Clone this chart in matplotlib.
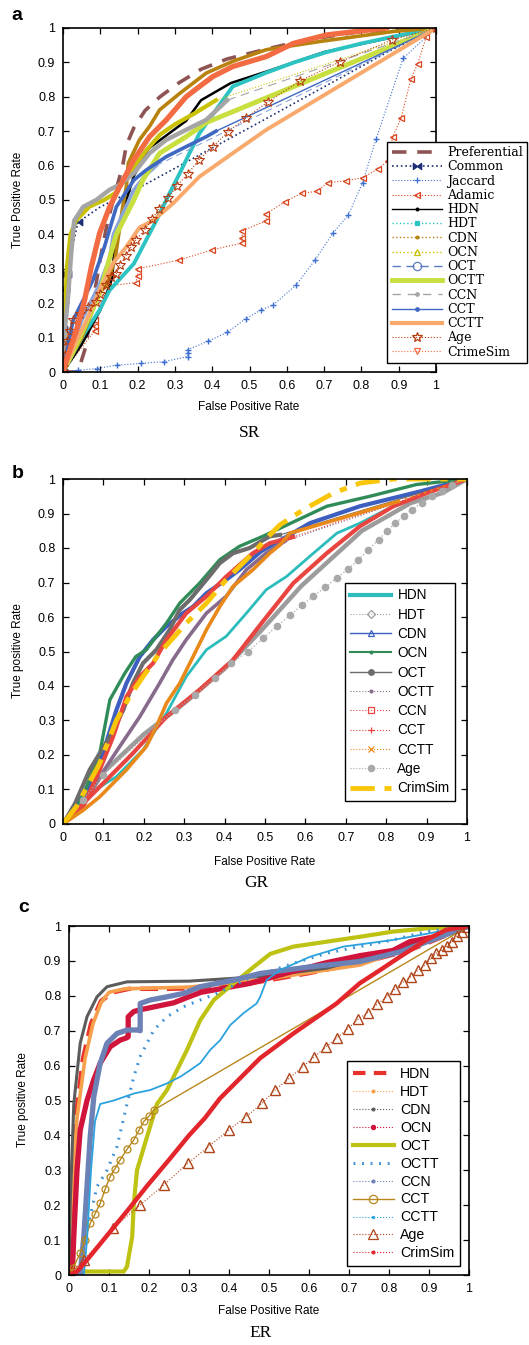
import numpy as np
import matplotlib.pyplot as plt
from matplotlib.lines import Line2D

plt.rcParams['font.family'] = ['Liberation Sans', 'DejaVu Sans']

# ROC curves, (false positive rate, true positive rate) pairs

# ---- (a) SR ----
sr_preferential = [(0, 0), (0.04, 0.0), (0.06, 0.07), (0.08, 0.2), (0.1, 0.33), (0.12, 0.44), (0.14, 0.52),
                   (0.16, 0.6), (0.17, 0.66), (0.19, 0.71), (0.22, 0.76), (0.26, 0.80), (0.31, 0.84),
                   (0.37, 0.88), (0.44, 0.91), (0.55, 0.94), (0.65, 0.965), (0.8, 0.99), (1, 1)]
sr_common = [(0, 0), (0, 0.04), (0, 0.09), (0, 0.125), (0, 0.22), (0.005, 0.24), (0.01, 0.285), (0.04, 0.435),
             (0.1, 0.48), (0.22, 0.545), (0.5, 0.71), (0.87, 0.93), (1, 1)]
sr_jaccard = [(0, 0), (0.04, 0.005), (0.09, 0.01), (0.145, 0.02), (0.21, 0.025), (0.27, 0.03), (0.335, 0.045),
              (0.335, 0.055), (0.335, 0.065), (0.39, 0.09), (0.44, 0.115), (0.49, 0.155), (0.53, 0.18),
              (0.564, 0.195), (0.625, 0.253), (0.676, 0.326), (0.723, 0.403), (0.765, 0.456), (0.803, 0.55),
              (0.839, 0.676), (0.912, 0.912), (1, 1)]
sr_adamic = [(0, 0), (0.085, 0.12), (0.085, 0.135), (0.085, 0.15), (0.12, 0.25), (0.195, 0.26), (0.2, 0.28),
             (0.2, 0.3), (0.31, 0.325), (0.40, 0.355), (0.48, 0.375), (0.48, 0.39), (0.48, 0.41), (0.545, 0.44),
             (0.545, 0.46), (0.595, 0.495), (0.64, 0.52), (0.68, 0.525), (0.71, 0.55), (0.759, 0.556),
             (0.804, 0.565), (0.844, 0.59), (0.871, 0.614), (0.884, 0.684), (0.906, 0.737), (0.933, 0.853),
             (0.951, 0.896), (0.974, 0.975), (1, 1)]
sr_hdn = [(0, 0), (0.05, 0.08), (0.1, 0.18), (0.125, 0.25), (0.133, 0.28), (0.137, 0.36), (0.15, 0.42),
          (0.17, 0.5), (0.19, 0.57), (0.23, 0.65), (0.28, 0.69), (0.33, 0.73), (0.37, 0.79), (0.45, 0.84),
          (0.55, 0.875), (0.7, 0.93), (0.87, 0.97), (1, 1)]
sr_hdt = [(0, 0), (0.054, 0.107), (0.098, 0.18), (0.125, 0.238), (0.19, 0.315), (0.25, 0.44), (0.286, 0.52),
          (0.313, 0.578), (0.339, 0.636), (0.366, 0.694), (0.41, 0.762), (0.455, 0.83), (0.545, 0.87),
          (0.62, 0.9), (0.707, 0.93), (0.8, 0.955), (0.886, 0.975), (1, 1)]
sr_cdn = [(0, 0), (0.05, 0.1), (0.098, 0.228), (0.12, 0.26), (0.14, 0.33), (0.16, 0.48), (0.17, 0.54),
          (0.175, 0.607), (0.205, 0.675), (0.232, 0.714), (0.259, 0.762), (0.313, 0.81), (0.384, 0.869),
          (0.455, 0.903), (0.545, 0.937), (0.69, 0.961), (0.886, 0.99), (1, 1)]
sr_ocn = [(0, 0), (0.004, 0.11), (0.01, 0.3), (0.02, 0.4), (0.035, 0.44), (0.07, 0.48), (0.11, 0.5),
          (0.14, 0.52), (0.18, 0.58), (0.22, 0.64), (0.26, 0.69), (0.3, 0.72), (0.35, 0.75), (0.41, 0.79), (1, 1)]
sr_oct = [(0, 0), (0.05, 0.15), (0.1, 0.26), (0.125, 0.33), (0.135, 0.4), (0.16, 0.46), (0.19, 0.53),
          (0.22, 0.57), (0.25, 0.6), (1, 1)]
sr_octt = [(0, 0), (0.045, 0.10), (0.098, 0.228), (0.143, 0.40), (0.19, 0.5), (0.214, 0.558), (0.259, 0.636),
           (0.33, 0.684), (0.384, 0.725), (1, 1)]
sr_ccn = [(0, 0), (0.004, 0.11), (0.013, 0.21), (0.022, 0.345), (0.03, 0.44), (0.054, 0.48), (0.089, 0.5),
          (0.125, 0.53), (0.152, 0.544), (0.19, 0.578), (0.232, 0.636), (0.277, 0.675), (0.33, 0.704),
          (0.384, 0.733), (0.44, 0.79), (1, 1)]
sr_cct = [(0, 0), (0.027, 0.15), (0.054, 0.209), (0.08, 0.267), (0.11, 0.36), (0.143, 0.48), (0.19, 0.558),
          (0.223, 0.587), (0.277, 0.626), (0.33, 0.655), (0.384, 0.684), (0.41, 0.70), (1, 1)]
sr_cctt = [(0, 0), (0.036, 0.09), (0.063, 0.15), (0.098, 0.238), (0.134, 0.316), (0.17, 0.364), (0.205, 0.42),
           (0.241, 0.44), (0.295, 0.49), (0.366, 0.568), (0.455, 0.636), (0.545, 0.704), (1, 1)]
sr_age = [(0, 0), (0, 0.015), (0.005, 0.05), (0.01, 0.09), (0.02, 0.12), (0.027, 0.15), (0.045, 0.17),
          (0.067, 0.19), (0.089, 0.204), (0.098, 0.228), (0.116, 0.252), (0.13, 0.277), (0.143, 0.286),
          (0.152, 0.31), (0.168, 0.337), (0.183, 0.364), (0.196, 0.385), (0.219, 0.413), (0.239, 0.444),
          (0.257, 0.475), (0.281, 0.505), (0.306, 0.542), (0.335, 0.576), (0.364, 0.617), (0.402, 0.655),
          (0.443, 0.699), (0.49, 0.738), (0.55, 0.786), (0.635, 0.846), (0.743, 0.902), (0.881, 0.965), (1, 1)]
sr_crimesim = [(0, 0), (0.009, 0.034), (0.036, 0.121), (0.058, 0.209), (0.076, 0.306), (0.098, 0.403),
               (0.125, 0.48), (0.152, 0.539), (0.19, 0.617), (0.232, 0.684), (0.277, 0.733), (0.33, 0.80),
               (0.366, 0.83), (0.402, 0.859), (0.455, 0.888), (0.545, 0.917), (0.617, 0.955), (0.707, 0.98),
               (0.867, 1.0), (1, 1)]

# ---- (b) GR ----
gr_hdn = [(0, 0), (0.066, 0.089), (0.132, 0.137), (0.198, 0.215), (0.256, 0.321), (0.305, 0.427), (0.355, 0.505),
          (0.404, 0.544), (0.454, 0.611), (0.503, 0.679), (0.554, 0.718), (0.611, 0.776), (0.678, 0.843),
          (0.735, 0.872), (0.8, 0.911), (0.9, 0.959), (1, 1)]
gr_hdt = [(0, 0), (0.05, 0.06), (0.1, 0.15), (0.2, 0.26), (0.3, 0.35), (0.4, 0.45), (0.49, 0.56), (0.59, 0.69),
          (0.74, 0.85), (0.86, 0.93), (0.94, 0.96), (1, 1)]
gr_cdn = [(0, 0), (0.05, 0.06), (0.091, 0.176), (0.132, 0.33), (0.157, 0.408), (0.19, 0.485), (0.223, 0.534),
          (0.256, 0.573), (0.297, 0.611), (0.322, 0.63), (0.355, 0.669), (0.404, 0.708), (0.437, 0.737),
          (0.49, 0.79), (0.611, 0.872), (0.735, 0.921), (0.884, 0.964), (1, 1)]
gr_ocn = [(0, 0), (0.05, 0.084), (0.091, 0.205), (0.116, 0.36), (0.153, 0.437), (0.18, 0.485), (0.206, 0.505),
          (0.231, 0.544), (0.256, 0.582), (0.289, 0.64), (0.338, 0.698), (0.388, 0.766), (0.437, 0.805),
          (0.495, 0.834), (0.653, 0.921), (0.76, 0.95), (0.875, 0.984), (1, 1)]
gr_oct = [(0, 0), (0.03, 0.06), (0.066, 0.157), (0.116, 0.253), (0.149, 0.33), (0.173, 0.408), (0.198, 0.466),
          (0.231, 0.505), (0.264, 0.563), (0.289, 0.621), (0.314, 0.65), (0.355, 0.708), (0.388, 0.756),
          (0.421, 0.785), (0.462, 0.80), (0.512, 0.834), (0.537, 0.838), (1, 1)]
gr_octt = [(0, 0), (0.05, 0.06), (0.091, 0.137), (0.14, 0.224), (0.19, 0.311), (0.239, 0.408), (0.272, 0.476),
           (0.305, 0.534), (0.355, 0.611), (0.404, 0.66), (0.454, 0.737), (0.503, 0.785), (0.55, 0.82), (1, 1)]
gr_ccn = [(0, 0), (0.05, 0.05), (0.091, 0.157), (0.124, 0.253), (0.157, 0.369), (0.19, 0.427), (0.223, 0.466),
          (0.256, 0.534), (0.305, 0.611), (0.355, 0.66), (0.404, 0.717), (0.47, 0.785), (0.512, 0.814),
          (0.57, 0.832), (1, 1)]
gr_cct = [(0, 0), (0.091, 0.108), (0.173, 0.205), (0.256, 0.311), (0.338, 0.389), (0.421, 0.476), (0.49, 0.58),
          (0.57, 0.698), (0.653, 0.785), (0.735, 0.863), (0.818, 0.921), (0.9, 0.959), (1, 1)]
gr_cctt = [(0, 0), (0.05, 0.04), (0.091, 0.079), (0.157, 0.157), (0.206, 0.224), (0.231, 0.282), (0.256, 0.35),
           (0.289, 0.408), (0.322, 0.485), (0.355, 0.563), (0.388, 0.63), (0.421, 0.689), (0.47, 0.737),
           (0.512, 0.785), (0.537, 0.809), (0.562, 0.843), (0.83, 0.935), (1, 1)]
gr_age = [(0, 0), (0.05, 0.07), (0.099, 0.142), (0.276, 0.331), (0.326, 0.374), (0.375, 0.423), (0.417, 0.466),
          (0.458, 0.5), (0.496, 0.539), (0.529, 0.573), (0.563, 0.606), (0.592, 0.635), (0.62, 0.66),
          (0.649, 0.687), (0.678, 0.713), (0.706, 0.739), (0.731, 0.766), (0.756, 0.795), (0.781, 0.824),
          (0.802, 0.848), (0.822, 0.872), (0.843, 0.892), (0.863, 0.911), (0.888, 0.93), (0.913, 0.95),
          (0.937, 0.964), (0.962, 0.984), (1, 1)]
gr_crimsim = [(0, 0), (0.033, 0.05), (0.091, 0.176), (0.132, 0.30), (0.165, 0.37), (0.198, 0.427), (0.239, 0.495),
              (0.305, 0.582), (0.355, 0.64), (0.404, 0.708), (0.47, 0.785), (0.512, 0.838), (0.537, 0.867),
              (0.595, 0.911), (0.669, 0.959), (0.735, 0.988), (0.818, 1.0), (1, 1)]

# ---- (c) ER ----
er_hdn = [(0, 0), (0.004, 0.1), (0.01, 0.3), (0.02, 0.48), (0.035, 0.62), (0.055, 0.72), (0.08, 0.785),
          (0.11, 0.81), (0.15, 0.82), (0.25, 0.82), (0.33, 0.822), (0.45, 0.835), (0.6, 0.865), (0.75, 0.9),
          (0.85, 0.93), (1, 1)]
er_hdt = [(0, 0), (0.005, 0.2), (0.02, 0.45), (0.04, 0.62), (0.06, 0.72), (0.08, 0.78), (0.1, 0.81), (0.14, 0.82),
          (0.3, 0.825), (0.478, 0.845), (0.644, 0.874), (0.727, 0.888), (0.81, 0.921), (0.977, 0.993), (1, 1)]
er_cdn = [(0, 0), (0.003, 0.205), (0.012, 0.49), (0.028, 0.664), (0.045, 0.74), (0.07, 0.797), (0.095, 0.826),
          (0.145, 0.84), (0.3, 0.842), (0.478, 0.855), (0.644, 0.879), (0.81, 0.931), (0.977, 0.993), (1, 1)]
er_ocn = [(0, 0), (0.008, 0.0), (0.012, 0.11), (0.02, 0.3), (0.028, 0.415), (0.045, 0.5), (0.062, 0.56),
          (0.078, 0.607), (0.103, 0.654), (0.128, 0.673), (0.145, 0.68), (0.148, 0.683), (0.148, 0.74),
          (0.162, 0.755), (0.178, 0.76), (0.22, 0.77), (0.262, 0.78), (0.295, 0.795), (0.33, 0.81), (0.45, 0.835),
          (0.56, 0.87), (0.644, 0.895), (0.727, 0.915), (0.81, 0.93), (0.852, 0.955), (0.935, 0.974), (1, 1)]
er_oct = [(0, 0), (0.003, 0.01), (0.137, 0.01), (0.145, 0.024), (0.158, 0.11), (0.162, 0.205), (0.17, 0.30),
          (0.195, 0.396), (0.22, 0.49), (0.245, 0.53), (0.27, 0.587), (0.295, 0.645), (0.328, 0.73),
          (0.362, 0.788), (0.412, 0.836), (0.462, 0.883), (0.503, 0.92), (0.561, 0.941), (0.644, 0.955),
          (0.727, 0.969), (0.81, 0.984), (0.893, 0.993), (1, 1)]
er_octt = [(0, 0), (0.03, 0.0), (0.045, 0.129), (0.07, 0.253), (0.095, 0.30), (0.12, 0.368), (0.145, 0.49),
           (0.162, 0.568), (0.178, 0.626), (0.212, 0.702), (0.245, 0.74), (0.287, 0.769), (0.328, 0.788),
           (0.37, 0.807), (0.45, 0.85), (0.561, 0.893), (0.644, 0.922), (0.81, 0.96), (0.893, 0.984), (1, 1)]
er_ccn = [(0, 0), (0.028, 0), (0.037, 0.11), (0.045, 0.253), (0.053, 0.396), (0.062, 0.511), (0.078, 0.607),
          (0.095, 0.664), (0.12, 0.692), (0.145, 0.702), (0.172, 0.702), (0.178, 0.70), (0.178, 0.778),
          (0.203, 0.788), (0.245, 0.797), (0.287, 0.807), (0.328, 0.826), (0.412, 0.845), (0.478, 0.864),
          (0.603, 0.883), (0.727, 0.898), (0.828, 0.926), (1, 1)]
er_cct = [(0, 0), (0.01, 0.02), (0.028, 0.062), (0.04, 0.1), (0.053, 0.148), (0.065, 0.175), (0.078, 0.205),
          (0.09, 0.245), (0.103, 0.282), (0.115, 0.305), (0.128, 0.33), (0.145, 0.36), (0.162, 0.387),
          (0.175, 0.415), (0.187, 0.44), (0.2, 0.455), (0.212, 0.473), (1, 1)]
er_cctt = [(0, 0), (0.037, 0.0), (0.045, 0.1), (0.055, 0.3), (0.065, 0.44), (0.078, 0.49), (0.112, 0.50),
           (0.162, 0.52), (0.203, 0.53), (0.245, 0.549), (0.278, 0.568), (0.303, 0.587), (0.328, 0.607),
           (0.353, 0.645), (0.378, 0.673), (0.403, 0.716), (0.436, 0.75), (0.469, 0.778), (0.478, 0.797),
           (0.494, 0.845), (0.528, 0.874), (0.603, 0.912), (0.686, 0.941), (0.81, 0.96), (1, 1)]
er_age = [(0, 0), (0.037, 0.043), (0.11, 0.134), (0.177, 0.20), (0.237, 0.258), (0.297, 0.32), (0.349, 0.368),
          (0.399, 0.415), (0.443, 0.454), (0.483, 0.492), (0.515, 0.53), (0.551, 0.564), (0.584, 0.597),
          (0.612, 0.624), (0.643, 0.654), (0.671, 0.68), (0.697, 0.706), (0.723, 0.733), (0.747, 0.752),
          (0.771, 0.777), (0.794, 0.796), (0.815, 0.819), (0.836, 0.84), (0.855, 0.855), (0.873, 0.874),
          (0.89, 0.888), (0.904, 0.907), (0.918, 0.922), (0.932, 0.931), (0.945, 0.943), (0.957, 0.955),
          (0.97, 0.97), (0.982, 0.984), (0.995, 0.996)]
er_crimsim = [(0, 0), (0.02, 0.01), (0.05, 0.05), (0.1, 0.12), (0.15, 0.19), (0.195, 0.255), (0.25, 0.33),
              (0.3, 0.4), (0.34, 0.45), (0.3775, 0.506), (0.4775, 0.621), (0.561, 0.692), (0.6275, 0.745),
              (0.669, 0.778), (0.727, 0.836), (0.778, 0.874), (0.828, 0.912), (0.893, 0.96), (0.943, 0.989), (1, 1)]

ticks = np.round(np.arange(0, 1.01, 0.1), 1)
tick_labels = ['0'] + ['%.1f' % t for t in ticks[1:-1]] + ['1']

W, H = 529, 1345
bowtie = [(-1, -0.75), (-1, 0.75), (1, -0.75), (1, 0.75), (-1, -0.75)]


def xy(pts):
    a = np.asarray(pts, dtype=float)
    return a[:, 0], a[:, 1]


def curve(ax, pts, color, lw, ls='-', tail=None, **kw):
    """draw a ROC curve; if tail is given the last segment gets its own (thin) style"""
    x, y = xy(pts)
    if tail is None:
        ax.plot(x, y, color=color, lw=lw, ls=ls, **kw)
    else:
        ax.plot(x[:-1], y[:-1], color=color, lw=lw, ls=ls, **kw)
        ax.plot(x[-2:], y[-2:], color=color, **tail)


def key(color, lw=1.0, ls='-', marker=None, ms=4, mfc=None, mew=0.9):
    return Line2D([], [], color=color, lw=lw, ls=ls, marker=marker, ms=ms,
                  mfc=color if mfc is None else mfc, mec=color, mew=mew)


def setup(ax):
    ax.set_xlim(0, 1)
    ax.set_ylim(0, 1)
    ax.set_xticks(ticks, tick_labels)
    ax.set_yticks(ticks, tick_labels)
    ax.tick_params(direction='in', top=True, right=True, labelsize=9, length=4, width=0.9, pad=5.5)
    for s in ax.spines.values():
        s.set_linewidth(1.2)


def add_legend(ax, handles, names, anchor, size, family, hl, ls, bp):
    leg = ax.legend(handles, names, loc='upper left', bbox_to_anchor=anchor, borderaxespad=0,
                    prop={'family': family, 'size': size}, handlelength=hl, handletextpad=0.45,
                    labelspacing=ls, borderpad=bp, fancybox=False, edgecolor='black', framealpha=1)
    leg.get_frame().set_linewidth(1.0)
    return leg


fig = plt.figure(figsize=(W / 100, H / 100), dpi=100)
ax_a = fig.add_axes([63 / W, 1 - 372 / H, 373 / W, 344 / H])
ax_b = fig.add_axes([63 / W, 1 - 824 / H, 404 / W, 345 / H])
ax_c = fig.add_axes([69 / W, 1 - 1275 / H, 400 / W, 349 / H])

# ---------- panel a ----------
ax = ax_a
thin = dict(lw=0.8, ls=':')
curve(ax, sr_preferential, '#8e5454', 2.6, ls=(0, (4, 3)))
curve(ax, sr_common, '#1c2d74', 1.2, ls=':', marker=bowtie, ms=6, markevery=list(range(8)))
curve(ax, sr_jaccard, '#3f6fd0', 0.8, ls=':', marker='+', ms=5, mew=1)
curve(ax, sr_adamic, '#d9441c', 0.8, ls=':', marker='<', ms=4.5, mfc='none', mew=0.9)
curve(ax, sr_hdn, 'black', 1.8)
curve(ax, sr_hdt, '#2dc3c3', 2.8)
curve(ax, sr_cdn, '#b8820f', 2.6)
curve(ax, sr_ocn, '#c9c206', 3.0, tail=thin)
curve(ax, sr_oct, '#8aa4dc', 2.6, tail=dict(lw=0.8, ls=(0, (6, 4))))
curve(ax, sr_octt, '#c8df3f', 3.5)
curve(ax, sr_ccn, '#a5a5a5', 3.2, tail=dict(lw=0.8, ls=(0, (8, 5))))
curve(ax, sr_cct, '#3e68c2', 2.6, tail=dict(lw=1.0, ls='-'))
curve(ax, sr_cctt, '#f8a96b', 2.8)
curve(ax, sr_age, '#b83c10', 0.8, ls=':', marker='*', ms=7, mfc='none', mew=0.8)
curve(ax, sr_crimesim, '#f36b43', 3.8, tail=thin)
setup(ax)
sr_keys = [key('#8e5454', 2.6, (0, (4, 3))), key('#1c2d74', 1.2, ':', bowtie, 6),
           key('#3f6fd0', 0.8, ':', '+', 5), key('#d9441c', 0.8, ':', '<', 4.5, 'none'),
           key('black', 1.0, '-', '.', 4), key('#2dc3c3', 1.0, ':', 's', 2.5),
           key('#b8820f', 1.0, ':', '.', 4), key('#c9c206', 1.0, ':', '^', 5, 'none'),
           key('#5b7bbf', 1.0, (0, (6, 4)), 'o', 6, 'none'), key('#c8df3f', 3.5),
           key('#a5a5a5', 1.0, (0, (6, 5)), '.', 5), key('#3e68c2', 1.0, '-', '.', 5),
           key('#f8a96b', 3.0), key('#b83c10', 0.8, ':', '*', 7, 'none'),
           key('#f36b43', 0.8, ':', 'v', 5, 'none')]
sr_names = ['Preferential', 'Common', 'Jaccard', 'Adamic', 'HDN', 'HDT', 'CDN', 'OCN', 'OCT', 'OCTT',
            'CCN', 'CCT', 'CCTT', 'Age', 'CrimeSim']
add_legend(ax, sr_keys, sr_names, (0.869, 0.669), 9, 'DejaVu Serif', 4.0, 0.1, 0.35)

# ---------- panel b ----------
ax = ax_b
curve(ax, gr_hdn, '#2cbcbc', 2.0)
curve(ax, gr_hdt, '#9c9c9c', 3.2)
curve(ax, gr_cdn, '#3c5fc0', 3.0)
curve(ax, gr_ocn, '#2f8c58', 2.4)
curve(ax, gr_oct, '#6c6c6c', 3.0, tail=dict(lw=0.8, ls='-'))
curve(ax, gr_octt, '#876a8c', 2.6, tail=dict(lw=0.8, ls=':'))
curve(ax, gr_ccn, '#e84540', 3.0, tail=dict(lw=0.8, ls=':'))
curve(ax, gr_cct, '#e84540', 3.0)
curve(ax, gr_cctt, '#e8891a', 2.6, tail=dict(lw=1.4, ls=(0, (1, 2.5))))
curve(ax, gr_age, '#a9a9a9', 0.9, ls=':', marker='o', ms=4.5)
curve(ax, gr_crimsim, '#f9c60a', 3.5, ls=(0, (5, 2, 1.5, 2)))
setup(ax)
gr_keys = [key('#2cbcbc', 3.0), key('#9c9c9c', 0.8, ':', 'D', 4, 'none'),
           key('#3c5fc0', 1.0, '-', '^', 5, 'none'), key('#2f8c58', 1.5, '-', '.', 4),
           key('#6c6c6c', 1.0, '-', 'o', 4), key('#876a8c', 0.8, ':', '.', 4),
           key('#e84540', 0.8, ':', 's', 4.5, 'none'), key('#e84540', 0.8, ':', '+', 4),
           key('#e8891a', 0.8, ':', 'x', 4), key('#a9a9a9', 0.8, ':', 'o', 4.5),
           key('#f9c60a', 3.5, (0, (5, 2, 1.5, 2)))]
gr_names = ['HDN', 'HDT', 'CDN', 'OCN', 'OCT', 'OCTT', 'CCN', 'CCT', 'CCTT', 'Age', 'CrimSim']
add_legend(ax, gr_keys, gr_names, (0.698, 0.699), 9.8, 'Liberation Sans', 3.0, 0.39, 0.4)

# ---------- panel c ----------
ax = ax_c
curve(ax, er_hdn, '#e8322b', 3.2, ls=(0, (4, 2)))
curve(ax, er_hdt, '#f7a04c', 2.6)
curve(ax, er_cdn, '#5c5c5c', 2.2)
curve(ax, er_ocn, '#d0143c', 3.8)
curve(ax, er_oct, '#bec212', 3.0)
curve(ax, er_octt, '#3f8fd4', 2.2, ls=(0, (0.6, 2.2)))
curve(ax, er_ccn, '#6c81b6', 3.8)
curve(ax, er_cct, '#b8871b', 1.0, marker='o', ms=5, mfc='none', mew=0.9,
      markevery=list(range(len(er_cct) - 1)))
curve(ax, er_cctt, '#2ba2de', 1.3)
curve(ax, er_age, '#b0451b', 0.8, ls=':', marker='^', ms=7, mfc='none', mew=1.0)
curve(ax, er_crimsim, '#e3262c', 3.2)
setup(ax)
er_keys = [key('#e8322b', 3.0, (0, (3, 2))), key('#f7a04c', 0.8, ':', '.', 4),
           key('#5c5c5c', 0.8, ':', '.', 4), key('#d0143c', 0.8, ':', 'o', 3),
           key('#bec212', 3.0), key('#3f8fd4', 2.2, (0, (0.6, 2.2))),
           key('#6c81b6', 0.8, ':', '.', 4), key('#b8871b', 1.0, '-', 'o', 6, 'none'),
           key('#2ba2de', 0.8, ':', '.', 3), key('#b0451b', 0.8, ':', '^', 7, 'none'),
           key('#e3262c', 0.8, ':', '.', 4)]
er_names = ['HDN', 'HDT', 'CDN', 'OCN', 'OCT', 'OCTT', 'CCN', 'CCT', 'CCTT', 'Age', 'CrimSim']
add_legend(ax, er_keys, er_names, (0.695, 0.613), 10.2, 'Liberation Sans', 2.9, 0.28, 0.4)

# ---------- labels ----------
def ftext(px, py, s, **kw):
    fig.text(px / W, 1 - py / H, s, ha='center', va='center', **kw)


ftext(17, 15, 'a', fontsize=14, fontweight='bold')
ftext(18, 474, 'b', fontsize=14, fontweight='bold')
ftext(24, 907, 'c', fontsize=14, fontweight='bold')
ftext(249, 407, 'False Positive Rate', fontsize=8.5)
ftext(265, 862, 'False Positive Rate', fontsize=8.5)
ftext(269, 1311, 'False Positive Rate', fontsize=8.5)
ftext(18, 200, 'True Positive Rate', fontsize=8.5, rotation=90)
ftext(18, 651, 'True positive Rate', fontsize=8.5, rotation=90)
ftext(23, 1100, 'True positive Rate', fontsize=8.5, rotation=90)
ftext(250, 433, 'SR', fontsize=12.5, family='Liberation Serif')
ftext(256, 883, 'GR', fontsize=12.5, family='Liberation Serif')
ftext(261, 1333, 'ER', fontsize=12.5, family='Liberation Serif')

fig.savefig('out.png', dpi=100)
